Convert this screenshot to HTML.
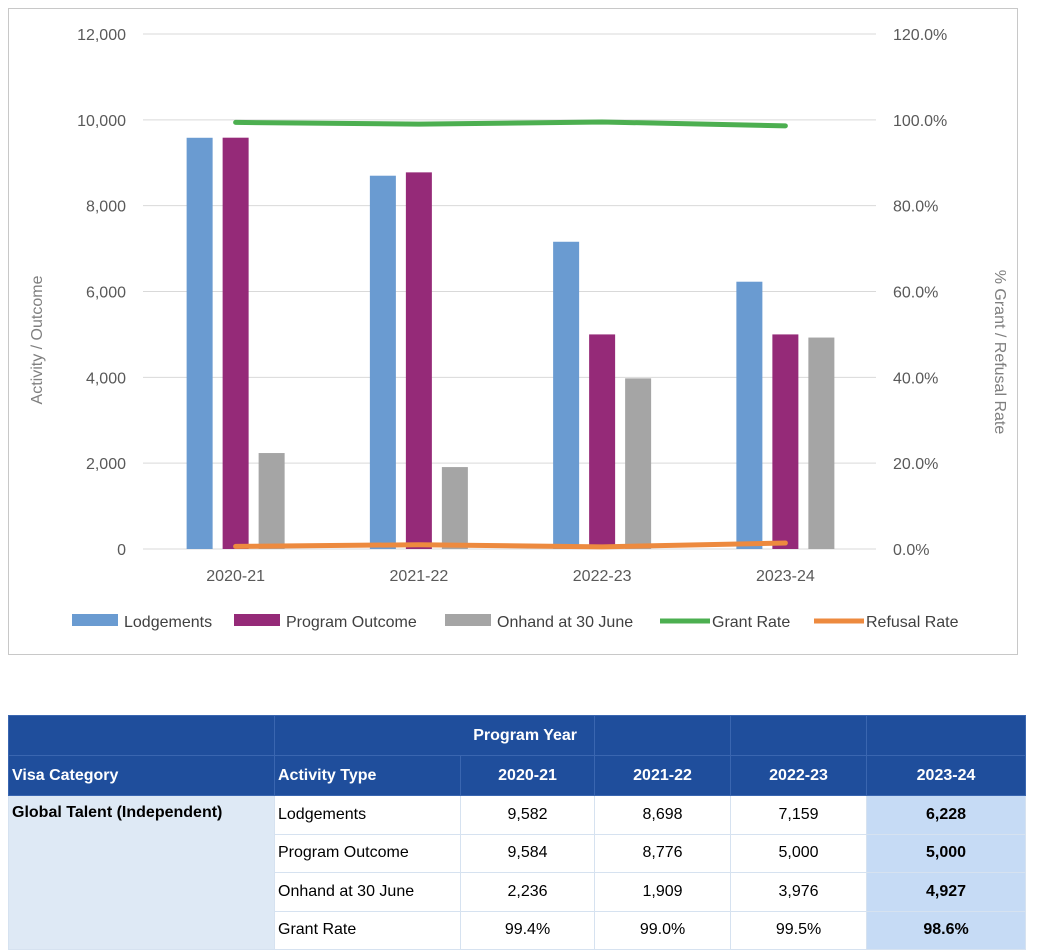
<!DOCTYPE html>
<html><head><meta charset="utf-8"><style>
body{margin:0;width:1046px;height:940px;background:#fff;font-family:"Liberation Sans",sans-serif;overflow:hidden;position:relative}
#chartbox{position:absolute;left:8px;top:8px;width:1010px;height:647px;border:1px solid #c8c8c8;box-sizing:border-box}
table{position:absolute;left:8px;top:715px;border-collapse:collapse;font-size:16px;table-layout:fixed;width:1017px}
td{padding:0 3px;height:38.5px;border:1px solid #d6e2f0;box-sizing:border-box}
.h{background:#1f4e9c;color:#fff;font-weight:bold;border-color:#3a66b0}
.c{text-align:center}
.last{background:#c6dbf5;font-weight:bold;text-align:center}
.cat{background:#dee9f5;font-weight:bold;vertical-align:top;padding-top:8px}
</style></head><body>
<div id="chartbox"></div>
<svg id="chart" width="1046" height="680" style="position:absolute;left:0;top:0"></svg>
<table>
<colgroup><col style="width:266px"><col style="width:186px"><col style="width:134px"><col style="width:136px"><col style="width:136px"><col style="width:159px"></colgroup>
<tr style="height:40px"><td class="h" style="height:40px"></td><td class="h" colspan="2" style="text-align:right;padding-right:17px;height:40px">Program Year</td><td class="h"></td><td class="h"></td><td class="h"></td></tr>
<tr style="height:40px"><td class="h" style="height:40px">Visa Category</td><td class="h">Activity Type</td><td class="h c">2020-21</td><td class="h c">2021-22</td><td class="h c">2022-23</td><td class="h c">2023-24</td></tr>
<tr><td class="cat" rowspan="4">Global Talent (Independent)</td><td>Lodgements</td><td class="c">9,582</td><td class="c">8,698</td><td class="c">7,159</td><td class="last">6,228</td></tr>
<tr><td>Program Outcome</td><td class="c">9,584</td><td class="c">8,776</td><td class="c">5,000</td><td class="last">5,000</td></tr>
<tr><td>Onhand at 30 June</td><td class="c">2,236</td><td class="c">1,909</td><td class="c">3,976</td><td class="last">4,927</td></tr>
<tr><td>Grant Rate</td><td class="c">99.4%</td><td class="c">99.0%</td><td class="c">99.5%</td><td class="last">98.6%</td></tr>
</table>
<script>
const categories=["2020-21","2021-22","2022-23","2023-24"];
const lodgements=[9582,8698,7159,6228];
const outcome=[9584,8776,5000,5000];
const onhand=[2236,1909,3976,4927];
const grantRate=[99.4,99.0,99.5,98.6];
const refusalRate=[0.6,1.0,0.5,1.4];
const leftTicks=[0,2000,4000,6000,8000,10000,12000];
const rightTicks=[0,20,40,60,80,100,120];
const NS="http://www.w3.org/2000/svg";
const svg=document.getElementById('chart');
const X0=143,X1=876,Y0=549,Y1=34;
const yL=v=>Y0-(v/12000)*(Y0-Y1);
const yR=v=>Y0-(v/120)*(Y0-Y1);
const band=(X1-X0)/categories.length;
const xc=i=>X0+band*(i+0.5)+1;
function el(t,a,txt){const e=document.createElementNS(NS,t);for(const k in a)e.setAttribute(k,a[k]);if(txt!=null)e.textContent=txt;svg.appendChild(e);return e;}
leftTicks.forEach((v,i)=>{
 const g=el('line',{x1:X0,x2:X1,y1:yL(v),y2:yL(v),stroke:'#d9d9d9','stroke-width':1});
 
 const t=el('text',{x:126,y:yL(v)+6,'text-anchor':'end','font-size':16,fill:'#595959'},v.toLocaleString('en-US'));
 
 const r=el('text',{x:893,y:yR(rightTicks[i])+6,'font-size':16,fill:'#595959'},rightTicks[i].toFixed(1)+'%');
 
});
const series=[[lodgements,'#6a9bd1',-36,'bar-lodgements'],[outcome,'#952a78',0,'bar-program-outcome'],[onhand,'#a5a5a5',36,'bar-onhand']];
categories.forEach((c,i)=>{
 series.forEach(s=>{
  const b=el('rect',{x:xc(i)+s[2]-13,y:yL(s[0][i]),width:26,height:Y0-yL(s[0][i]),fill:s[1]});
  
 });
 const t=el('text',{x:xc(i),y:581,'text-anchor':'middle','font-size':16,fill:'#595959'},c);
 
});
function line(vals,color,name){
 const p=el('polyline',{points:vals.map((v,i)=>xc(i)+','+yR(v)).join(' '),fill:'none',stroke:color,'stroke-width':5,'stroke-linecap':'round'});
 
}
line(grantRate,'#4caf50','grant-rate-line');
line(refusalRate,'#ed8a3f','refusal-rate-line');
const a1=el('text',{x:42,y:340,'text-anchor':'middle','font-size':16,fill:'#7f7f7f',transform:'rotate(-90 42 340)'},'Activity / Outcome');

const a2=el('text',{x:995,y:352,'text-anchor':'middle','font-size':16,fill:'#7f7f7f',transform:'rotate(90 995 352)'},'% Grant / Refusal Rate');

const leg=[['Lodgements','#6a9bd1',72,'rect'],['Program Outcome','#952a78',234,'rect'],['Onhand at 30 June','#a5a5a5',445,'rect'],['Grant Rate','#4caf50',660,'line'],['Refusal Rate','#ed8a3f',814,'line']];
leg.forEach(l=>{
 if(l[3]==='rect'){const r=el('rect',{x:l[2],y:614,width:46,height:12,fill:l[1]});}
 else{const r=el('line',{x1:l[2],x2:l[2]+50,y1:621,y2:621,stroke:l[1],'stroke-width':5});}
 const t=el('text',{x:l[2]+52,y:627,'font-size':16,fill:'#404040'},l[0]);
 
});
</script>
</body></html>
